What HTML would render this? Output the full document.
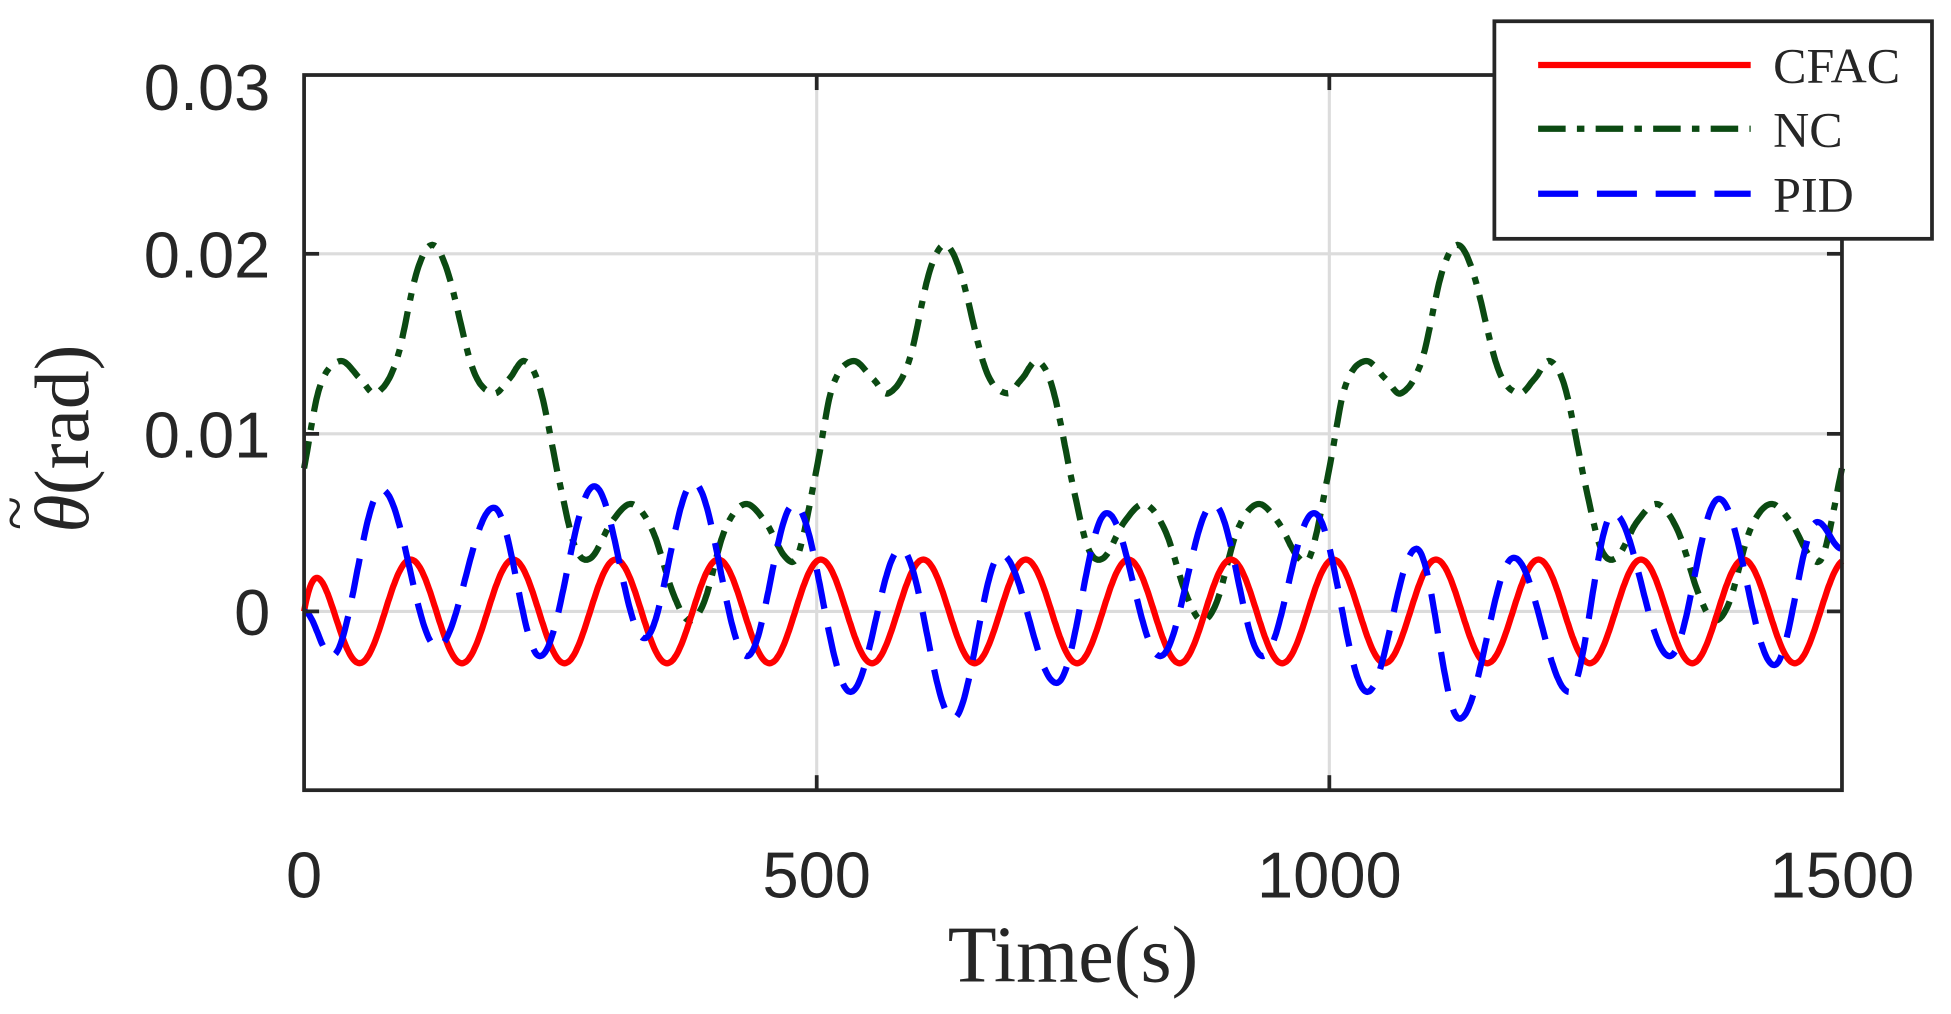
<!DOCTYPE html>
<html><head><meta charset="utf-8"><style>
html,body{margin:0;padding:0;background:#fff;}
svg{display:block;}
</style></head><body>
<svg id="s" width="1951" height="1014" viewBox="0 0 1560 811" xmlns="http://www.w3.org/2000/svg">
<rect width="1560" height="811" fill="#fff"/>
<g stroke="#dcdcdc" stroke-width="2.5">
<line x1="653" y1="60" x2="653" y2="632"/><line x1="1063" y1="60" x2="1063" y2="632"/>
<line x1="243" y1="203" x2="1473" y2="203"/><line x1="243" y1="347" x2="1473" y2="347"/><line x1="243" y1="489" x2="1473" y2="489"/>
</g>
<g id="series" fill="none"></g>
<rect x="243" y="60" width="1230" height="572" fill="none" stroke="#262626" stroke-width="3"/>
<g stroke="#262626" stroke-width="3">
<line x1="653" y1="632" x2="653" y2="620"/><line x1="1063" y1="632" x2="1063" y2="620"/>
<line x1="653" y1="60" x2="653" y2="72"/><line x1="1063" y1="60" x2="1063" y2="72"/>
<line x1="243" y1="203" x2="255" y2="203"/><line x1="243" y1="347" x2="255" y2="347"/><line x1="243" y1="489" x2="255" y2="489"/>
<line x1="1473" y1="203" x2="1461" y2="203"/><line x1="1473" y1="347" x2="1461" y2="347"/><line x1="1473" y1="489" x2="1461" y2="489"/>
</g>
<g font-family="Liberation Sans, sans-serif" font-size="52" fill="#262626">
<text x="216" y="88" text-anchor="end">0.03</text>
<text x="216" y="222" text-anchor="end">0.02</text>
<text x="216" y="366" text-anchor="end">0.01</text>
<text x="216" y="508" text-anchor="end">0</text>
<text x="243" y="718" text-anchor="middle">0</text>
<text x="653" y="718" text-anchor="middle">500</text>
<text x="1063" y="718" text-anchor="middle">1000</text>
<text x="1473" y="718" text-anchor="middle">1500</text>
</g>
<text x="858" y="785" text-anchor="middle" font-family="Liberation Serif, serif" font-size="64" fill="#262626">Time(s)</text>
<g transform="translate(70,346) rotate(-90)" font-family="Liberation Serif, serif" font-size="62" fill="#262626">
<text x="-80" y="0" font-style="italic">θ</text>
<text x="-50" y="0">(rad)</text>
<text x="-78" y="-42" font-size="50">~</text>
</g>
<rect x="1195" y="17" width="350" height="174" fill="#fff" stroke="#262626" stroke-width="3"/>
<line x1="1230" y1="52" x2="1400" y2="52" stroke="#ff0000" stroke-width="5"/>
<line x1="1230" y1="103" x2="1400" y2="103" stroke="#0b4a12" stroke-width="5" stroke-dasharray="22 9 6 9"/>
<line x1="1230" y1="155" x2="1400" y2="155" stroke="#0000ff" stroke-width="5" stroke-dasharray="32 15"/>
<g font-family="Liberation Serif, serif" font-size="40" fill="#262626">
<text x="1418" y="66">CFAC</text><text x="1418" y="117">NC</text><text x="1418" y="169">PID</text>
</g>
</svg>
<script>
(function(){
var X=function(t){return 243+t*0.82;}, Y=function(v){return 489-v*14.3;};
function cos_interp(pts,t){
 for(var i=0;i<pts.length-1;i++){var a=pts[i],b=pts[i+1];
  if(t>=a[0]&&t<=b[0]){var u=(t-a[0])/(b[0]-a[0]);var w=(1-Math.cos(Math.PI*u))/2;return a[1]+(b[1]-a[1])*w;}}
 return pts[pts.length-1][1];}
function cr(pts,t){
 for(var i=0;i<pts.length-1;i++){var p1=pts[i],p2=pts[i+1];
  if(t>=p1[0]&&t<=p2[0]){var p0=pts[Math.max(0,i-1)],p3=pts[Math.min(pts.length-1,i+2)];
   var u=(t-p1[0])/(p2[0]-p1[0]);
   var m1=(p2[1]-p0[1])/(p2[0]-p0[0]||1)*(p2[0]-p1[0]);
   var m2=(p3[1]-p1[1])/(p3[0]-p1[0]||1)*(p2[0]-p1[0]);
   var u2=u*u,u3=u2*u;
   return (2*u3-3*u2+1)*p1[1]+(u3-2*u2+u)*m1+(-2*u3+3*u2)*p2[1]+(u3-u2)*m2;}}
 return pts[pts.length-1][1];}
var g0=[[0,8],[15,12.5],[35,14],[55,13],[70,12.2],[90,14],[110,19],[125,20.5],[140,19],[165,13.5],[185,12.2],[200,13],[215,14],[230,12.5],[250,7],[265,3.5],[280,3],[300,5],[320,6],[340,4.5],[360,1],[375,-0.5],[390,0.5],[410,4.5],[430,6],[450,5],[470,3],[482,3.2]];
var g=[];for(var k=0;k<3;k++)g0.forEach(function(p){g.push([p[0]+500*k,p[1]]);});g.push([1500,8]);
var b=[[0,0],[27,-2.5],[76,6.8],[130,-2],[185,5.8],[230,-2.5],[283,7],[332,-1.5],[380,7.2],[432,-2.5],[478,6],[533,-4.5],[582,3.5],[633,-6],[680,3.2],[734,-4],[783,5.5],[835,-2.5],[887,6],[935,-2.5],[985,5.5],[1037,-4.5],[1085,3.5],[1127,-6],[1180,3],[1234,-4.5],[1277,5.5],[1332,-2.5],[1380,6.3],[1434,-3],[1476,5],[1500,3.5]];
function path(f){var d="";for(var t=0;t<=1500;t+=1){d+=(t?"L":"M")+X(t).toFixed(1)+" "+Y(f(t)).toFixed(1);}return d;}
var red=function(t){return 2.9*Math.cos(2*Math.PI*(t-4)/100)*(1-Math.exp(-t/9));};
var ns="http://www.w3.org/2000/svg",G=document.getElementById("series");
function add(d,c,da){var p=document.createElementNS(ns,"path");p.setAttribute("d",d);p.setAttribute("stroke",c);p.setAttribute("stroke-width","5");if(da)p.setAttribute("stroke-dasharray",da);G.appendChild(p);}
add(path(function(t){return cr(g,t);}),"#0b4a12","22 9 6 9");
add(path(red),"#ff0000",null);
add(path(function(t){return cos_interp(b,t);}),"#0000ff","32 15");
})();
</script>
</body></html>
